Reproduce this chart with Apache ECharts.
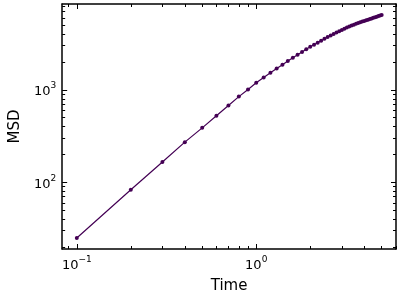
<!DOCTYPE html>
<html><head><meta charset="utf-8">
<script src="https://cdn.jsdelivr.net/npm/echarts@6/dist/echarts.min.js"></script>
<style>html,body{margin:0;padding:0;background:#fff}#c{width:401px;height:301px}</style>
</head><body><div id="c"></div>
<script>
const times = [0.1,0.2,0.3,0.4,0.5,0.6,0.7,0.8,0.9,1.0,1.1,1.2,1.3,1.4,1.5,1.6,1.7,1.8,1.9,2.0,2.1,2.2,2.3,2.4,2.5,2.6,2.7,2.8,2.9,3.0,3.1,3.2,3.3,3.4,3.5,3.6,3.7,3.8,3.9,4.0,4.1,4.2,4.3,4.4,4.5,4.6,4.7,4.8,4.9,5.0];
const msd = [25,83,166,272,388,525,677,845,1010,1195,1360,1530,1700,1870,2050,2230,2400,2570,2750,2920,3080,3240,3400,3560,3720,3870,4020,4170,4310,4450,4580,4710,4830,4950,5060,5170,5270,5370,5470,5560,5650,5740,5830,5920,6010,6100,6190,6270,6350,6440];
const xMajorTicks = [0.1, 1];
const xMinorTicks = [0.09,0.2,0.3,0.4,0.5,0.6,0.7,0.8,0.9,2,3,4,5,6];
const yMajorTicks = [100, 1000];
const yMinorTicks = [20,30,40,50,60,70,80,90,200,300,400,500,600,700,800,900,2000,3000,4000,5000,6000,7000,8000];
const xRange = [0.0829, 6.01];
const yRange = [19.0, 8480];

const FONT = 'DejaVu Sans';
const supFmt = v => {
  const e = Math.round(Math.log10(v));
  return '{b|10}{s|' + (e < 0 ? '\u2212' + (-e) : e) + '}';
};
const rich = {
  b: {fontSize: 13, fontFamily: FONT, color: '#000', lineHeight: 17, verticalAlign: 'bottom'},
  s: {fontSize: 9, fontFamily: FONT, color: '#000', verticalAlign: 'top', lineHeight: 10}
};
const lineSty = {color: '#000', width: 1.5};

function xAx(pos, ticks, len, showLine, labels) {
  return {
    type: 'log', logBase: 10, min: xRange[0], max: xRange[1], position: pos, gridIndex: 0,
    axisLine: {show: showLine, lineStyle: lineSty},
    axisTick: {show: true, inside: true, length: len, customValues: ticks, lineStyle: {color: '#000', width: 1}},
    axisLabel: labels ? {show: true, customValues: xMajorTicks, formatter: supFmt, rich: rich, margin: 6} : {show: false},
    splitLine: {show: false}, minorTick: {show: false}
  };
}
function yAx(pos, ticks, len, showLine, labels) {
  return {
    type: 'log', logBase: 10, min: yRange[0], max: yRange[1], position: pos, gridIndex: 0,
    axisLine: {show: showLine, lineStyle: lineSty},
    axisTick: {show: true, inside: true, length: len, customValues: ticks, lineStyle: {color: '#000', width: 1}},
    axisLabel: labels ? {show: true, customValues: yMajorTicks, formatter: supFmt, rich: rich, margin: 6} : {show: false},
    splitLine: {show: false}, minorTick: {show: false}
  };
}

const xAxes = [xAx('bottom', xMajorTicks, 5, true, true), xAx('bottom', xMinorTicks, 3, false, false),
               xAx('top', xMajorTicks, 5, true, false), xAx('top', xMinorTicks, 3, false, false)];
xAxes[0].name = 'Time'; xAxes[0].nameLocation = 'middle'; xAxes[0].nameGap = 30;
xAxes[0].nameTextStyle = {fontSize: 15, fontFamily: FONT, color: '#000'};
const yAxes = [yAx('left', yMajorTicks, 5, true, true), yAx('left', yMinorTicks, 3, false, false),
               yAx('right', yMajorTicks, 5, true, false), yAx('right', yMinorTicks, 3, false, false)];
yAxes[0].name = 'MSD'; yAxes[0].nameLocation = 'middle'; yAxes[0].nameGap = 35;
yAxes[0].nameTextStyle = {fontSize: 15, fontFamily: FONT, color: '#000'};

const chart = echarts.init(document.getElementById('c'), null, {renderer: 'canvas'});
chart.setOption({
  animation: false,
  backgroundColor: '#fff',
  grid: {left: 59, right: 5, top: 4, bottom: 52, containLabel: false},
  xAxis: xAxes,
  yAxis: yAxes,
  series: [{
    type: 'line', xAxisIndex: 0, yAxisIndex: 0,
    data: times.map((t, i) => [t, msd[i]]),
    symbol: 'circle', symbolSize: 4, showSymbol: true,
    itemStyle: {color: '#440154'},
    lineStyle: {color: '#440154', width: 1.2}
  }]
});
</script></body></html>
